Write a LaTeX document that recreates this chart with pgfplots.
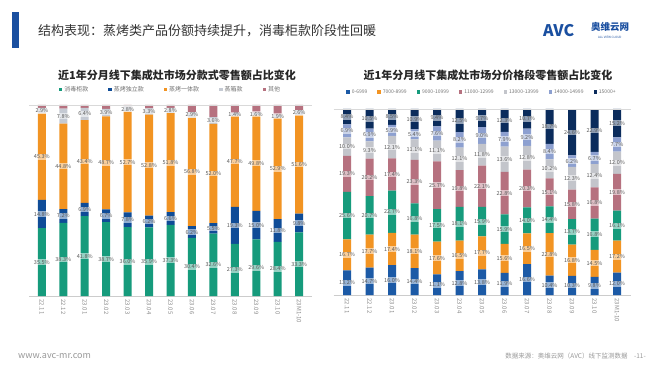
\documentclass[border=0pt]{standalone}
\usepackage{pgfplots}
\usepackage{pgfplotstable}
\pgfplotsset{compat=1.18}
\usepackage{fontspec}
\setmainfont{Noto Sans CJK SC}
\definecolor{cgreen}{HTML}{169B7C}
\definecolor{cdblue}{HTML}{0F4C97}
\definecolor{corange}{HTML}{F29423}
\definecolor{clgray}{HTML}{C5CAD3}
\definecolor{cmauve}{HTML}{B6717F}
\definecolor{cblue}{HTML}{1C5AA6}
\definecolor{cnavy}{HTML}{0B2C5C}
\definecolor{cperi}{HTML}{8DA0D0}
\definecolor{cgray}{HTML}{C3C5CB}
\definecolor{logoblue}{HTML}{1A4FA0}

\pgfplotstableread{
x green blue orange steam other
0 35.5 14.8 45.3 2.9 1.5
1 38.3 7.2 44.8 7.8 1.9
2 41.8 6.9 43.4 6.4 1.5
3 38.7 6.7 48.7 3.9 2.0
4 36.0 7.8 52.7 2.8 0.7
5 35.9 6.2 52.8 3.3 1.8
6 37.3 6.6 51.8 2.8 1.5
7 30.4 6.2 56.8 2.9 3.7
8 32.6 5.5 52.0 3.6 6.3
9 27.3 19.3 47.7 1.4 4.3
10 29.6 15.0 49.8 1.6 4.0
11 28.4 11.8 52.9 1.9 5.0
12 33.3 9.8 51.6 2.6 2.7
}\Ltab

\pgfplotstableread{
x a b c d e f g
0 13.2 16.7 25.6 19.3 10.0 6.9 8.4
1 14.7 17.7 20.7 20.2 9.3 6.9 10.5
2 16.0 17.4 22.7 17.4 12.1 5.9 8.5
3 14.4 18.1 16.8 23.3 11.1 5.4 10.9
4 11.1 17.6 17.5 25.7 11.1 7.6 9.4
5 12.8 16.5 18.1 19.8 12.1 8.2 12.5
6 13.8 17.7 15.9 22.1 11.8 9.0 9.7
7 11.9 15.6 15.9 22.8 13.6 7.9 12.3
8 16.6 16.5 14.0 20.3 12.8 9.2 10.7
9 10.4 22.8 14.4 15.1 10.2 8.4 18.7
10 10.3 16.8 13.7 15.8 12.3 6.2 24.6
11 9.8 14.5 16.8 16.8 12.4 6.7 22.9
12 12.0 17.2 16.1 19.8 12.0 7.7 15.2
}\Rtab

\pgfplotsset{
  common/.style={
    scale only axis,
    ybar stacked, bar width=8pt,
    xmin=-0.6, xmax=12.6, ymin=0, ymax=100,
    axis y line=none, axis x line*=bottom,
    x axis line style={draw=black!20,-},
    xtick={0,...,12},
    xticklabels={22.11,22.12,23.01,23.02,23.03,23.04,23.05,23.06,23.07,23.08,23.09,23.10,23M1-10},
    xticklabel style={rotate=-90, anchor=west, font=\fontsize{6}{7}\selectfont, text=black!45},
    major tick length=0pt,
    /pgf/number format/assume math mode=true,
    clip=false,
    legend image code/.code={\fill[##1] (0pt,-1.6pt) rectangle (3.4pt,1.8pt);},
    lab/.style={nodes near coords={\pgfmathprintnumber[fixed,fixed zerofill,precision=1]{\pgfplotspointmeta}\%},
      every node near coord/.style={anchor=center, fill=white, fill opacity=0.55, text opacity=1, inner sep=0.8pt, font=\fontsize{5.5}{6}\selectfont, text=black!65}},
  },
}

\begin{document}
\begin{tikzpicture}
\fill[white] (0,0) rectangle (660pt,372pt);
\useasboundingbox (0,0) rectangle (660pt,372pt);
% header
\fill[logoblue] (12pt,324pt) rectangle (19pt,360pt);
\node[anchor=west, inner sep=0pt, font=\fontsize{13}{15}\selectfont, text=black!80] at (38pt,341pt) {结构表现：蒸烤类产品份额持续提升，消毒柜款阶段性回暖};
\node[anchor=west, inner sep=0pt, font=\bfseries\fontsize{16}{18}\selectfont, text=logoblue] at (543pt,341pt) {AVC};
\node[anchor=west, inner sep=0pt, font=\bfseries\fontsize{9.5}{11}\selectfont, text=logoblue] at (591pt,345pt) {奥维云网};
\node[anchor=west, inner sep=0pt, font=\fontsize{3}{3}\selectfont, text=logoblue] at (598pt,335pt) {ALL VIEW CLOUD};
% chart titles
\node[font=\bfseries\fontsize{11}{12}\selectfont, text=black!85] at (177pt,297pt) {近1年分月线下集成灶市场分款式零售额占比变化};
\node[font=\bfseries\fontsize{11}{12}\selectfont, text=black!85] at (488pt,297pt) {近1年分月线下集成灶市场分价格段零售额占比变化};
% footer
\node[anchor=west, inner sep=0pt, font=\fontsize{9}{10}\selectfont, text=black!40] at (18pt,16pt) {www.avc-mr.com};
\node[anchor=east, inner sep=0pt, font=\fontsize{6.5}{7}\selectfont, text=black!40] at (646pt,16pt) {数据来源：奥维云网（AVC）线下监测数据\quad -11-};

\begin{axis}[
  common,
  at={(29pt,76pt)}, anchor=south west,
  width=283pt, height=191pt,
  legend style={at={(0.5,1)}, anchor=south, yshift=8pt, draw=none, fill=none, legend columns=5, font=\fontsize{6}{7}\selectfont, text=black!55, /tikz/every even column/.append style={column sep=18pt}},
]
\draw[black!15] (axis cs:-0.6,100) -- (axis cs:12.6,100);
\addplot[fill=cgreen, draw=none, lab] table[x=x,y=green] \Ltab;
\addplot[fill=cdblue, draw=none, lab] table[x=x,y=blue] \Ltab;
\addplot[fill=corange, draw=none, lab] table[x=x,y=orange] \Ltab;
\addplot[fill=clgray, draw=none, lab] table[x=x,y=steam] \Ltab;
\addplot[fill=cmauve, draw=none] table[x=x,y=other] \Ltab;
\legend{消毒柜款,蒸烤独立款,蒸烤一体款,蒸箱款,其他}
\end{axis}

\begin{axis}[
  common,
  at={(333.5pt,77pt)}, anchor=south west,
  width=297pt, height=186pt,
  legend style={at={(0.5,1)}, anchor=south, yshift=10pt, draw=none, fill=none, legend columns=7, font=\fontsize{5}{6}\selectfont, text=black!55, /tikz/every even column/.append style={column sep=8pt}},
]
\draw[black!15] (axis cs:-0.6,100) -- (axis cs:12.6,100);
\addplot[fill=cblue, draw=none, lab] table[x=x,y=a] \Rtab;
\addplot[fill=corange, draw=none, lab] table[x=x,y=b] \Rtab;
\addplot[fill=cgreen, draw=none, lab] table[x=x,y=c] \Rtab;
\addplot[fill=cmauve, draw=none, lab] table[x=x,y=d] \Rtab;
\addplot[fill=cgray, draw=none, lab] table[x=x,y=e] \Rtab;
\addplot[fill=cperi, draw=none, lab] table[x=x,y=f] \Rtab;
\addplot[fill=cnavy, draw=none, lab] table[x=x,y=g] \Rtab;
\legend{0-6999,7000-8999,9000-10999,11000-12999,13000-13999,14000-14999,15000+}
\end{axis}
\end{tikzpicture}
\end{document}
